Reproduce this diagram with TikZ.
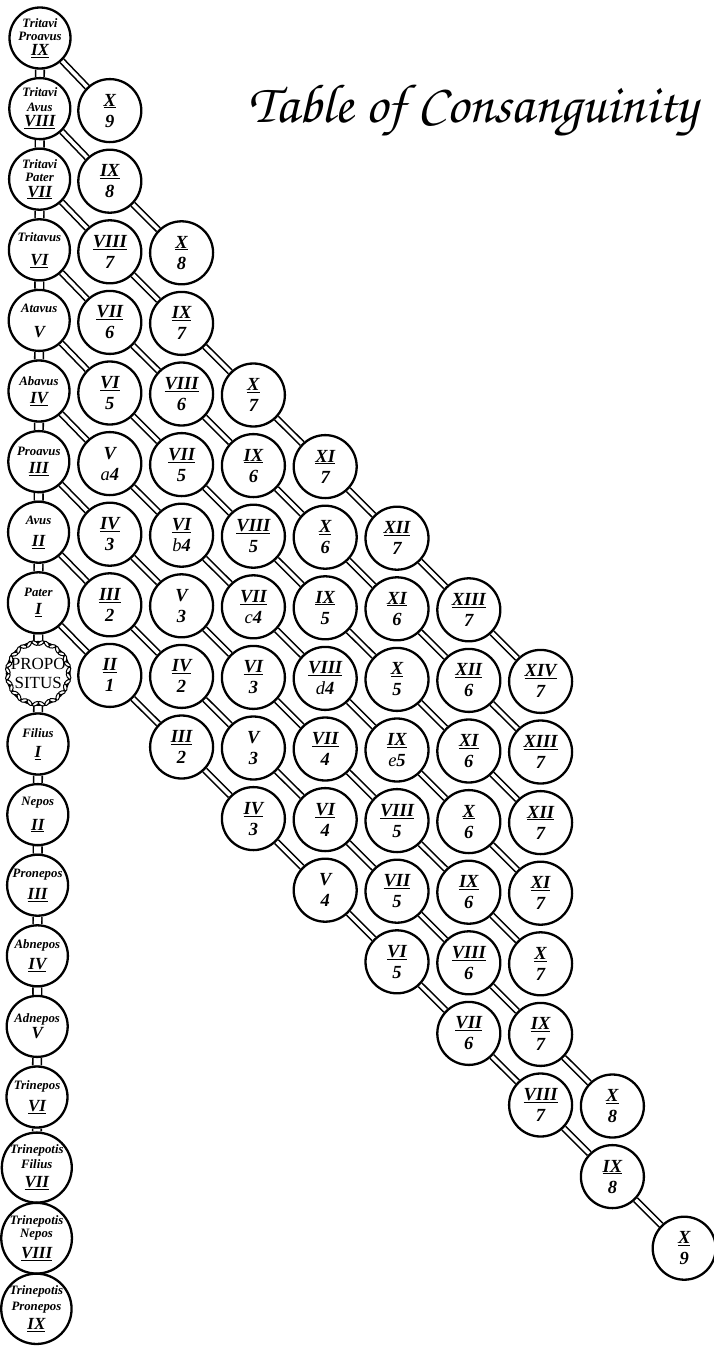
\documentclass[tikz,border=0pt]{standalone}
\usepackage{fontspec}
\setmainfont{Liberation Serif}
\newfontfamily\chorusfont{texgyrechorus-mediumitalic.otf}
\usetikzlibrary{backgrounds}
\newcommand\rnu[1]{\underline{#1}}
\newcommand\nm[1]{{\fontsize{17}{18}\selectfont\rnu{#1}}}
\newcommand\nmv[1]{{\fontsize{17}{18}\selectfont #1}}
\tikzset{
  anc/.style={circle, draw, line width=2.3pt, minimum size=61pt, inner sep=0pt, fill=white, align=center, font=\bfseries\itshape\fontsize{12.8}{13}\selectfont},
  cell/.style={circle, draw, line width=2.3pt, minimum size=63pt, inner sep=0pt, fill=white, align=center, font=\bfseries\itshape\fontsize{18.5}{21}\selectfont},
  vlink/.style={double, double distance=7pt, line width=1.6pt},
  dlink/.style={double, double distance=3.5pt, line width=1.6pt},
  leaf/.style={draw, fill=white, line width=1pt},
  titlestyle/.style={font=\chorusfont\fontsize{55}{55}\selectfont, inner sep=0pt, anchor=base}
}
\begin{document}
\begin{tikzpicture}[x=1pt,y=-1pt]
\useasboundingbox (0,0) rectangle (714,1349);
\node[titlestyle] (title) at (473,122) {Table of Consanguinity};
% left column
\foreach \i/\txt in {
 0/{Tritavi\\Proavus\\[2pt]\nm{IX}},
 1/{Tritavi\\[2pt]Avus\\[2pt]\nm{VIII}},
 2/{Tritavi\\Pater\\[3pt]\nm{VII}},
 3/{Tritavus\\[11pt]\nm{VI}},
 4/{Atavus\\[12pt]\nmv{V}},
 5/{Abavus\\[5pt]\nm{IV}},
 6/{Proavus\\[5pt]\nm{III}},
 7/{Avus\\[9pt]\nm{II}},
 8/{Pater\\[5pt]\nm{I}},
 10/{Filius\\[7pt]\nm{I}},
 11/{Nepos\\[10pt]\nm{II}},
 12/{Pronepos\\[7pt]\nm{III}},
 13/{Abnepos\\[6pt]\nm{IV}},
 14/{Adnepos\\[1pt]\nmv{V}},
 15/{Trinepos\\[7pt]\nm{VI}},
 16/{Trinepotis\\[2pt]Filius\\[6pt]\nm{VII}},
 17/{Trinepotis\\Nepos\\[7pt]\nm{VIII}},
 18/{Trinepotis\\[3pt]Pronepos\\[4pt]\nm{IX}}} {
  \node[anc] (L\i) at ({40-0.2*\i},{38+70.6*\i}) {\txt};
}
% propositus with wreath
\node[anc, minimum size=55pt, font=\fontsize{17}{19}\selectfont] (L9) at ({40-0.2*9},{38+70.6*9}) {PROPO\\SITUS};
\foreach \a in {0,22.5,...,359} {
  \draw[leaf] (L9.center) ++(\a+6:30.5pt) ellipse [x radius=3.6pt, y radius=1.7pt, rotate=\a+6+55];
  \draw[leaf] (L9.center) ++(\a-5:30.5pt) ellipse [x radius=3.6pt, y radius=1.7pt, rotate=\a-5-55];
}
% grid cells
\foreach \cc/\rr/\n/\m in {
 1/1/\rnu{X}/9, 1/2/\rnu{IX}/8, 1/3/\rnu{VIII}/7, 1/4/\rnu{VII}/6, 1/5/\rnu{VI}/5, 1/6/V/{{\mdseries a}4}, 1/7/\rnu{IV}/3, 1/8/\rnu{III}/2, 1/9/\rnu{II}/1,
 2/3/\rnu{X}/8, 2/4/\rnu{IX}/7, 2/5/\rnu{VIII}/6, 2/6/\rnu{VII}/5, 2/7/\rnu{VI}/{{\mdseries b}4}, 2/8/V/3, 2/9/\rnu{IV}/2, 2/10/\rnu{III}/2,
 3/5/\rnu{X}/7, 3/6/\rnu{IX}/6, 3/7/\rnu{VIII}/5, 3/8/\rnu{VII}/{{\mdseries c}4}, 3/9/\rnu{VI}/3, 3/10/V/3, 3/11/\rnu{IV}/3,
 4/6/\rnu{XI}/7, 4/7/\rnu{X}/6, 4/8/\rnu{IX}/5, 4/9/\rnu{VIII}/{{\mdseries d}4}, 4/10/\rnu{VII}/4, 4/11/\rnu{VI}/4, 4/12/V/4,
 5/7/\rnu{XII}/7, 5/8/\rnu{XI}/6, 5/9/\rnu{X}/5, 5/10/\rnu{IX}/{{\mdseries e}5}, 5/11/\rnu{VIII}/5, 5/12/\rnu{VII}/5, 5/13/\rnu{VI}/5,
 6/8/\rnu{XIII}/7, 6/9/\rnu{XII}/6, 6/10/\rnu{XI}/6, 6/11/\rnu{X}/6, 6/12/\rnu{IX}/6, 6/13/\rnu{VIII}/6, 6/14/\rnu{VII}/6,
 7/9/\rnu{XIV}/7, 7/10/\rnu{XIII}/7, 7/11/\rnu{XII}/7, 7/12/\rnu{XI}/7, 7/13/\rnu{X}/7, 7/14/\rnu{IX}/7, 7/15/\rnu{VIII}/7,
 8/15/\rnu{X}/8, 8/16/\rnu{IX}/8,
 9/17/\rnu{X}/9} {
  \node[cell] (g\cc x\rr) at ({38+71.8*\cc},{39+70.6*\rr+\cc}) {\n\\\m};
}
\begin{pgfonlayer}{background}
\foreach \i [evaluate=\i as \j using int(\i+1)] in {0,...,17} {
  \draw[vlink] (L\i) -- (L\j);
}
\foreach \cc/\rr in {1/1,1/2,1/3,1/4,1/5,1/6,1/7,1/8,1/9,
 2/3,2/4,2/5,2/6,2/7,2/8,2/9,2/10,
 3/5,3/6,3/7,3/8,3/9,3/10,3/11,
 4/6,4/7,4/8,4/9,4/10,4/11,4/12,
 5/7,5/8,5/9,5/10,5/11,5/12,5/13,
 6/8,6/9,6/10,6/11,6/12,6/13,6/14,
 7/9,7/10,7/11,7/12,7/13,7/14,7/15,
 8/15,8/16,9/17} {
  \pgfmathtruncatemacro\pc{\cc-1}
  \pgfmathtruncatemacro\pr{\rr-1}
  \ifnum\cc=1
    \draw[dlink] (L\pr) -- (g\cc x\rr);
  \else
    \draw[dlink] (g\pc x\pr) -- (g\cc x\rr);
  \fi
}
\end{pgfonlayer}
\end{tikzpicture}
\end{document}
